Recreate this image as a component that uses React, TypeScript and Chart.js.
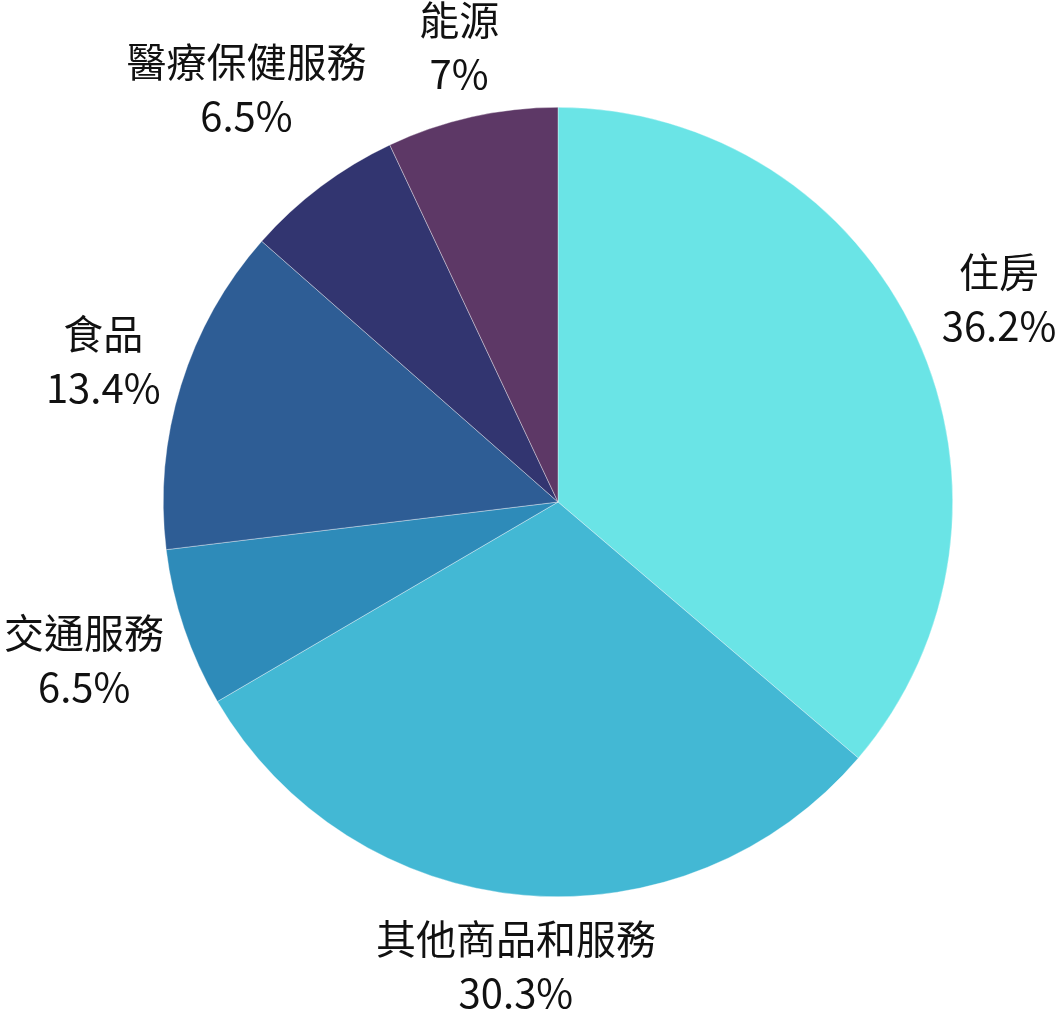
import { useEffect, useRef } from 'react';
import { Chart, registerables } from 'chart.js';

Chart.register(...registerables);

const categories = ['住房', '其他商品和服務', '交通服務', '食品', '醫療保健服務', '能源'];
const shares = [36.2, 30.3, 6.5, 13.4, 6.5, 7];
const pctLabels = ['36.2%', '30.3%', '6.5%', '13.4%', '6.5%', '7%'];
const sliceColors = ['#6ae4e6', '#43b8d4', '#2e8bb9', '#2e5d95', '#323570', '#5d3866'];

const FONT = '"Noto Sans CJK TC", "Noto Sans", sans-serif';

// outside labels: name on top, percent below
const outerLabels = {
  id: 'outerLabels',
  afterDraw(chart: Chart) {
    const { ctx } = chart;
    const meta = chart.getDatasetMeta(0);
    const fontSize = 40;
    const lineH = 54;
    // small nudges for the crowded labels
    const nudge: Record<number, [number, number]> = { 4: [10, -38], 3: [3, 5], 1: [4, 0] };
    ctx.save();
    ctx.font = `${fontSize}px ${FONT}`;
    ctx.fillStyle = '#111111';
    ctx.textAlign = 'center';
    ctx.textBaseline = 'middle';
    meta.data.forEach((el: any, i: number) => {
      const { x, y, startAngle, endAngle, outerRadius } = el.getProps(
        ['x', 'y', 'startAngle', 'endAngle', 'outerRadius'],
        true
      );
      const mid = (startAngle + endAngle) / 2;
      const c = Math.cos(mid);
      const s = Math.sin(mid);
      const w = Math.max(ctx.measureText(categories[i]).width, ctx.measureText(pctLabels[i]).width);
      const r = outerRadius + 35;
      let cx = x + 3 + r * c + w * 0.46 * c;
      let cy = y + r * s + 36 * Math.sign(s) * Math.sqrt(Math.abs(s));
      if (nudge[i]) {
        cx += nudge[i][0];
        cy += nudge[i][1];
      }
      ctx.fillText(categories[i], cx, cy - lineH / 2);
      ctx.fillText(pctLabels[i], cx, cy + lineH / 2);
    });
    ctx.restore();
  },
};

export default function App() {
  const canvasRef = useRef<HTMLCanvasElement>(null);

  useEffect(() => {
    document.body.style.margin = '0';
    if (!canvasRef.current) return;
    const chart = new Chart(canvasRef.current, {
      type: 'pie',
      data: {
        labels: categories,
        datasets: [
          {
            data: shares,
            backgroundColor: sliceColors,
            borderColor: 'rgba(255,255,255,0.6)',
            borderWidth: 0.6,
          },
        ],
      },
      options: {
        responsive: false,
        animation: false,
        layout: { padding: { left: 163, right: 109, top: 107, bottom: 113 } },
        plugins: {
          legend: { display: false },
          tooltip: { enabled: false },
        },
      },
      plugins: [outerLabels],
    });
    return () => chart.destroy();
  }, []);

  return (
    <div style={{ width: 1062, height: 1010, background: '#ffffff' }}>
      <canvas ref={canvasRef} width={1062} height={1010} />
    </div>
  );
}
